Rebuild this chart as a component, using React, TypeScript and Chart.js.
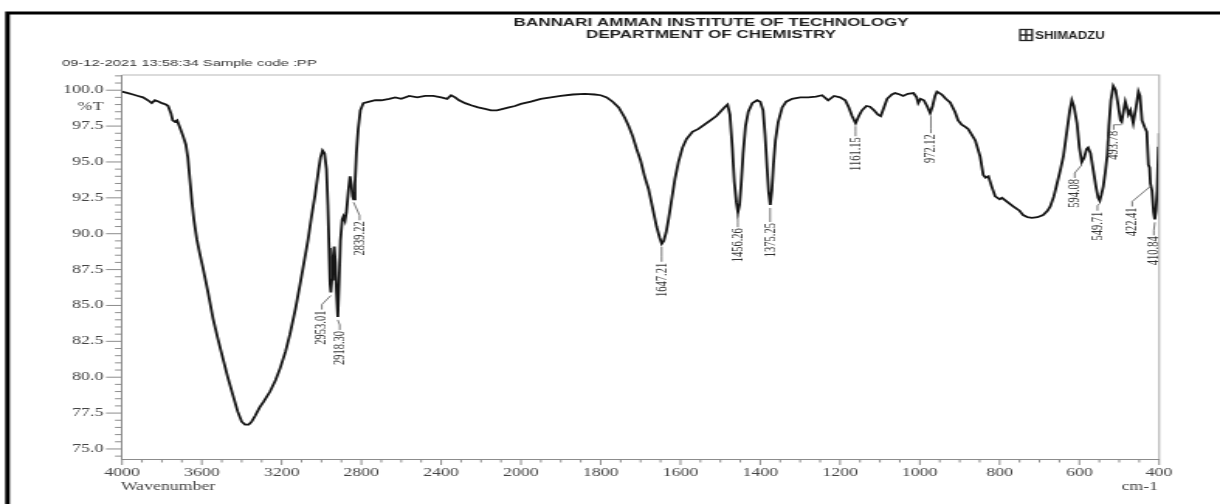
import { useEffect, useRef } from 'react';
import { Chart, registerables } from 'chart.js';

Chart.register(...registerables);

// ---------------- data ----------------
const wavenumbers = [
  4000, 3970, 3945, 3920, 3895, 3870, 3851, 3835, 3815, 3800, 3780, 3769, 3755, 3746, 3735, 3724,
  3710, 3694, 3680, 3670, 3660, 3650, 3640, 3625, 3610, 3594, 3570, 3544, 3520, 3494, 3470, 3443,
  3420, 3400, 3383, 3365, 3350, 3333, 3310, 3290, 3258, 3230, 3208, 3180, 3158, 3130, 3107, 3085,
  3067, 3050, 3032, 3015, 3005, 2995, 2985, 2975, 2968, 2962, 2957, 2953, 2948, 2942, 2936, 2930,
  2925, 2918, 2912, 2905, 2896, 2890, 2882, 2875, 2865, 2857, 2850, 2844, 2839, 2832, 2825, 2816,
  2805, 2790, 2760, 2730, 2700, 2660, 2630, 2600, 2560, 2520, 2480, 2440, 2400, 2370, 2350, 2330,
  2310, 2280, 2250, 2215, 2180, 2150, 2120, 2090, 2060, 2030, 2000, 1975, 1950, 1925, 1900, 1870,
  1840, 1815, 1800, 1785, 1770, 1755, 1740, 1730, 1720, 1710, 1700, 1690, 1680, 1670, 1660, 1652,
  1647, 1642, 1636, 1630, 1622, 1614, 1605, 1595, 1585, 1570, 1555, 1540, 1525, 1510, 1500, 1490,
  1482, 1476, 1470, 1465, 1460, 1456, 1452, 1448, 1443, 1437, 1430, 1420, 1408, 1400, 1393, 1388,
  1383, 1379, 1375, 1371, 1367, 1362, 1355, 1345, 1335, 1320, 1300, 1280, 1260, 1245, 1230, 1215,
  1200, 1187, 1178, 1170, 1161, 1153, 1145, 1134, 1125, 1115, 1105, 1098, 1090, 1082, 1070, 1062,
  1050, 1042, 1030, 1016, 1008, 1004, 998, 990, 982, 974, 968, 962, 957, 945, 935, 924,
  912, 904, 895, 886, 879, 870, 861, 849, 841, 835, 828, 820, 811, 800, 794, 780,
  766, 750, 741, 730, 719, 705, 691, 680, 673, 664, 656, 648, 640, 631, 624, 619,
  614, 606, 600, 594, 588, 582, 578, 572, 565, 558, 553, 549, 545, 540, 535, 530,
  526, 521, 515, 509, 503, 497, 494, 489, 485, 481, 477, 472, 465, 458, 452, 448,
  443, 436, 431, 427, 424, 422, 418, 414, 411, 408, 405, 402, 400,
];

const transmittance = [
  99.9, 99.8, 99.7, 99.6, 99.5, 99.3, 99.1, 99.3, 99.2, 99.1, 99.0, 98.9, 98.4, 97.9, 97.8, 97.9,
  97.4, 96.8, 96.2, 95.3, 93.8, 92.3, 91.0, 89.6, 88.6, 87.6, 86.0, 84.1, 82.7, 81.3, 80.0, 78.7,
  77.6, 76.9, 76.7, 76.7, 76.9, 77.3, 77.9, 78.3, 79.0, 79.8, 80.6, 81.8, 83.0, 84.8, 86.5, 88.2,
  89.6, 91.2, 92.7, 94.4, 95.3, 95.8, 95.6, 94.5, 92.0, 89.0, 86.5, 85.9, 86.8, 88.4, 89.1, 88.0,
  86.0, 84.2, 86.5, 89.5, 91.0, 91.2, 90.9, 91.5, 93.0, 94.0, 93.4, 92.6, 92.4, 93.5, 95.6, 97.3,
  98.6, 99.1, 99.2, 99.3, 99.3, 99.4, 99.5, 99.4, 99.6, 99.5, 99.6, 99.6, 99.5, 99.4, 99.65, 99.5,
  99.3, 99.1, 98.95, 98.8, 98.7, 98.6, 98.6, 98.7, 98.8, 98.9, 99.05, 99.2, 99.4, 99.5, 99.6, 99.7,
  99.75, 99.7, 99.65, 99.5, 99.2, 98.8, 98.1, 97.5, 96.8, 95.9, 95.1, 94.0, 93.1, 91.8, 90.5, 89.7,
  89.3, 89.5, 90.1, 91.0, 92.4, 93.8, 95.0, 96.0, 96.6, 97.1, 97.3, 97.6, 97.9, 98.2, 98.5, 98.8,
  99.0, 98.3, 96.0, 93.6, 92.2, 91.5, 92.0, 93.4, 95.6, 97.5, 98.5, 99.1, 99.3, 99.2, 98.6, 96.9,
  94.6, 92.9, 92.0, 93.0, 94.8, 96.5, 97.8, 98.8, 99.2, 99.4, 99.5, 99.5, 99.55, 99.65, 99.3, 99.6,
  99.5, 99.3, 98.8, 98.2, 97.7, 98.2, 98.6, 98.9, 98.85, 98.6, 98.3, 98.2, 98.8, 99.4, 99.7, 99.8,
  99.7, 99.6, 99.75, 99.8, 99.5, 99.1, 99.4, 99.3, 98.9, 98.4, 98.9, 99.6, 99.9, 99.7, 99.4, 99.15,
  98.5, 97.9, 97.6, 97.45, 97.3, 96.9, 96.5, 95.4, 94.1, 93.9, 94.0, 93.3, 92.6, 92.4, 92.5, 92.2,
  91.9, 91.6, 91.3, 91.15, 91.1, 91.15, 91.3, 91.6, 91.9, 92.6, 93.5, 94.4, 95.4, 97.2, 98.6, 99.3,
  98.9, 97.7, 96.0, 95.0, 95.3, 95.9, 96.0, 95.6, 94.4, 93.2, 92.5, 92.3, 92.7, 93.3, 94.3, 95.5,
  97.5, 99.3, 100.3, 100.0, 99.0, 97.9, 97.8, 98.6, 99.2, 98.8, 98.3, 98.6, 97.7, 98.8, 99.9, 99.6,
  97.9, 97.4, 97.1, 94.8, 94.6, 93.5, 93.0, 91.5, 91.0, 91.6, 93.0, 96.0, 97.0,
];

const peakWavenumbers = [2953.01, 2918.3, 2839.22, 1647.21, 1456.26, 1375.25, 1161.15, 972.12, 594.08, 549.71, 493.78, 422.41, 410.84];
const peakTransmittance = [85.9, 84.2, 92.4, 89.3, 91.5, 92.0, 97.7, 98.4, 95.0, 92.3, 97.8, 93.5, 91.0];
const peakLabels = ['2953.01', '2918.30', '2839.22', '1647.21', '1456.26', '1375.25', '1161.15', '972.12', '594.08', '549.71', '493.78', '422.41', '410.84'];

const yTickMajorStep = 2.5;
const xTickLabelStep = 200;

// ---------------- layout (screen px) ----------------
const STRETCH = 1.55;
const PAGE_W = 1220;
const PAGE_H = 504;
const CANVAS_W = Math.round(PAGE_W / STRETCH);
const labelShiftX = [-9, 2, 6, 0, 0, 0, 0, 0, -7, -2, -8, -18, -1];
const labelGapY = [17, 13, 21, 18, 15, 17, 13, 20, 16, 10, 8, 23, 16];

const SERIF = "'Liberation Serif', 'Times New Roman', 'DejaVu Serif', serif";
const SANS = "'Liberation Sans', Arial, 'DejaVu Sans', sans-serif";

// piecewise wavenumber axis (4000-2000 at half scale)
function toAxis(w: number) {
  return w >= 2000 ? (4000 - w) / 2 : 1000 + (2000 - w);
}
function fromAxis(u: number) {
  return u <= 1000 ? 4000 - 2 * u : 2000 - (u - 1000);
}

const sx = (px: number) => px / STRETCH;

const decorPlugin = {
  id: 'irDecor',
  beforeDraw(chart: any) {
    const { ctx } = chart;
    ctx.save();
    ctx.fillStyle = '#ffffff';
    ctx.fillRect(0, 0, chart.width, chart.height);
    ctx.restore();
  },
  afterDraw(chart: any) {
    const { ctx, chartArea } = chart;
    const xs = chart.scales.x;
    const ys = chart.scales.y;
    const { left, right, top, bottom } = chartArea;
    ctx.save();

    // plot frame (top / right)
    ctx.strokeStyle = '#b8b8b8';
    ctx.lineWidth = 1.2;
    ctx.beginPath();
    ctx.moveTo(left, top);
    ctx.lineTo(right, top);
    ctx.lineTo(right, bottom);
    ctx.stroke();

    // tick marks
    ctx.strokeStyle = '#8c8c8c';
    ctx.lineWidth = 1;
    ys.ticks.forEach((t: any) => {
      const v = t.value;
      const major = Math.abs(v / yTickMajorStep - Math.round(v / yTickMajorStep)) < 1e-6;
      const y = ys.getPixelForValue(v);
      ctx.beginPath();
      ctx.moveTo(left - (major ? sx(16) : sx(7)), y);
      ctx.lineTo(left, y);
      ctx.stroke();
    });
    xs.ticks.forEach((t: any) => {
      const v = t.value;
      const major = Math.round(v) % xTickLabelStep === 0;
      const x = xs.getPixelForValue(v);
      ctx.beginPath();
      ctx.moveTo(x, bottom);
      ctx.lineTo(x, bottom + (major ? 6 : 3.5));
      ctx.stroke();
    });

    // %T label
    ctx.fillStyle = '#444';
    ctx.font = `11.5px ${SERIF}`;
    ctx.textAlign = 'right';
    ctx.textBaseline = 'middle';
    ctx.fillText('%T', left - 12, ys.getPixelForValue(98.8));

    // axis titles
    ctx.textAlign = 'center';
    ctx.fillText('Wavenumber', sx(168), 487);
    ctx.textAlign = 'right';
    ctx.fillText('cm-1', sx(1158), 487);

    // peak labels
    ctx.font = `10.5px ${SERIF}`;
    ctx.fillStyle = '#333';
    ctx.strokeStyle = '#555';
    ctx.lineWidth = 0.8;
    peakWavenumbers.forEach((w, i) => {
      const px = xs.getPixelForValue(toAxis(w));
      const py = ys.getPixelForValue(peakTransmittance[i]);
      const lx = px + sx(labelShiftX[i]);
      const ly = py + labelGapY[i];
      ctx.beginPath();
      ctx.moveTo(px, py + 3);
      ctx.lineTo(lx, ly - 5);
      ctx.lineTo(lx, ly);
      ctx.stroke();
      ctx.save();
      ctx.translate(lx, ly + 1);
      ctx.rotate(-Math.PI / 2);
      ctx.textAlign = 'right';
      ctx.textBaseline = 'middle';
      ctx.fillText(peakLabels[i], 0, 0);
      ctx.restore();
    });

    // header
    ctx.fillStyle = '#1e1e1e';
    ctx.font = `bold 11px ${SANS}`;
    ctx.textAlign = 'center';
    ctx.textBaseline = 'middle';
    ctx.fillText('BANNARI AMMAN INSTITUTE OF TECHNOLOGY', sx(711), 23);
    ctx.fillText('DEPARTMENT OF CHEMISTRY', sx(711), 35);

    // SHIMADZU logo + name
    const lgX = sx(1020);
    const lgW = sx(12);
    ctx.strokeStyle = '#222';
    ctx.lineWidth = 1.3;
    ctx.strokeRect(lgX, 29.5, lgW, 11);
    ctx.beginPath();
    ctx.moveTo(lgX, 35);
    ctx.lineTo(lgX + lgW, 35);
    ctx.moveTo(lgX + lgW / 2, 29.5);
    ctx.lineTo(lgX + lgW / 2, 40.5);
    ctx.stroke();
    ctx.save();
    ctx.translate(sx(1035), 35.5);
    ctx.scale(0.74, 1);
    ctx.font = `bold 11.5px ${SANS}`;
    ctx.textAlign = 'left';
    ctx.fillText('SHIMADZU', 0, 0);
    ctx.restore();

    // date / sample line
    ctx.fillStyle = '#333';
    ctx.font = `9.5px ${SANS}`;
    ctx.textAlign = 'left';
    ctx.fillText('09-12-2021 13:58:34 Sample code :PP', sx(62), 63);

    // outer black border (left / top)
    ctx.strokeStyle = '#000';
    ctx.lineWidth = 3;
    ctx.beginPath();
    ctx.moveTo(sx(7.5), PAGE_H);
    ctx.lineTo(sx(7.5), 13);
    ctx.lineTo(CANVAS_W, 13);
    ctx.stroke();

    ctx.restore();
  },
};

export default function App() {
  const ref = useRef<HTMLCanvasElement | null>(null);

  useEffect(() => {
    document.body.style.margin = '0';
    const canvas = ref.current;
    if (!canvas) return;
    const points = wavenumbers.map((w, i) => ({ x: toAxis(w), y: transmittance[i] }));
    const chart = new Chart(canvas, {
      type: 'line',
      data: {
        datasets: [
          {
            data: points,
            borderColor: '#151515',
            borderWidth: 1.8,
            pointRadius: 0,
            tension: 0,
            fill: false,
          },
        ],
      },
      options: {
        responsive: false,
        animation: false,
        devicePixelRatio: 1,
        layout: {
          padding: { left: sx(122) - 45, right: CANVAS_W - sx(1159), top: 75, bottom: PAGE_H - 459 - 30 },
        },
        plugins: {
          legend: { display: false },
          tooltip: { enabled: false },
          title: { display: false },
        },
        scales: {
          x: {
            type: 'linear',
            min: 0,
            max: 2600,
            afterFit: (s: any) => {
              s.height = 30;
            },
            border: { display: true, color: '#8c8c8c', width: 1 },
            grid: { display: false, drawTicks: false },
            ticks: {
              stepSize: 50,
              autoSkip: false,
              maxRotation: 0,
              minRotation: 0,
              padding: 7,
              color: '#444',
              font: { family: SERIF, size: 11.5 },
              callback: (v: any) => (Math.round(v) % xTickLabelStep === 0 ? String(fromAxis(Math.round(v))) : ''),
            },
          },
          y: {
            type: 'linear',
            min: 74.3,
            max: 101.06,
            afterFit: (s: any) => {
              s.width = 45;
            },
            border: { display: true, color: '#8c8c8c', width: 1 },
            grid: { display: false, drawTicks: false },
            ticks: {
              stepSize: 0.5,
              includeBounds: false,
              autoSkip: false,
              padding: 12,
              color: '#444',
              font: { family: SERIF, size: 11.5 },
              callback: (v: any) =>
                Math.abs(v / yTickMajorStep - Math.round(v / yTickMajorStep)) < 1e-6 ? Number(v).toFixed(1) : '',
            },
          },
        },
      },
      plugins: [decorPlugin],
    });
    return () => chart.destroy();
  }, []);

  return (
    <div style={{ width: PAGE_W, height: PAGE_H, position: 'relative', background: '#fff' }}>
      <canvas
        ref={ref}
        width={CANVAS_W}
        height={PAGE_H}
        style={{ width: `${PAGE_W}px`, height: `${PAGE_H}px`, display: 'block' }}
      />
    </div>
  );
}
